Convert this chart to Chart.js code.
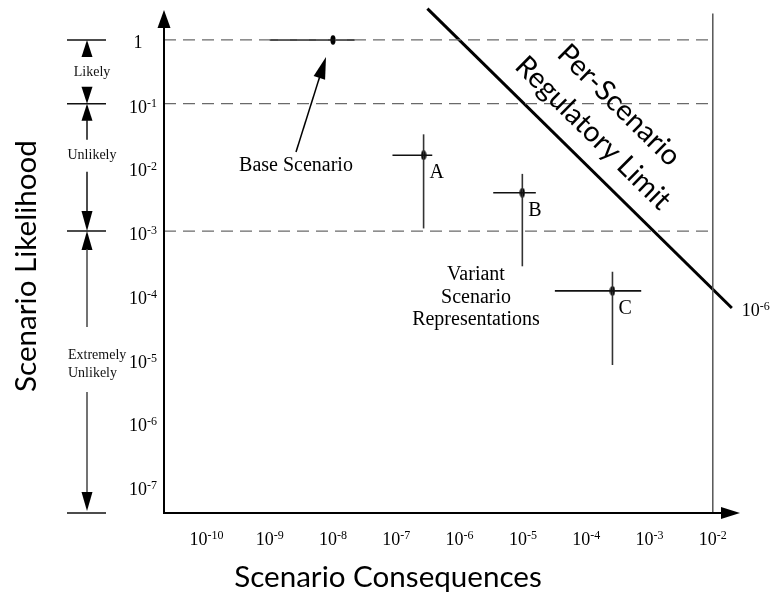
<!DOCTYPE html>
<html><head><meta charset="utf-8">
<script src="https://cdn.jsdelivr.net/npm/chart.js@4.4.1/dist/chart.umd.min.js"></script>
<style>html,body{margin:0;padding:0;background:#fff;}#wrap{width:776px;height:592px;}</style>
</head><body><div id="wrap"><canvas id="c" width="776" height="592"></canvas></div>
<script>
// ---- data ----
const scenarioNames   = ['Base Scenario', 'A', 'B', 'C'];
const consequence     = [1.0e-8, 2.7e-7, 9.8e-6, 2.6e-4];
const consequenceLow  = [1.0e-9, 8.7e-8, 3.4e-6, 3.2e-5];
const consequenceHigh = [2.2e-8, 3.7e-7, 1.6e-5, 7.4e-4];
const likelihood      = [1, 1.55e-2, 4.0e-3, 1.15e-4];
const likelihoodLow   = [null, 1.1e-3, 2.8e-4, 7.9e-6];
const likelihoodHigh  = [null, 3.3e-2, 7.9e-3, 2.3e-4];
const bandLimits      = [1, 1e-1, 1e-3];
const bandNames       = ['Likely', 'Unlikely', 'Extremely Unlikely'];
const limitLabelExp   = -6;
const limitLineX      = [3.1e-7, 2.0e-2];
const limitLineY      = [3.1, 6.2e-5];
const consequenceCap  = 1e-2;
const capTopY         = 2.6;
const xTickExponents  = [-10, -9, -8, -7, -6, -5, -4, -3, -2];
const yTickExponents  = [0, -1, -2, -3, -4, -5, -6, -7];
const xRange          = [2.14e-11, 2.69e-2];
const yRange          = [3.76e-8, 2.95];

const SERIF = '"Liberation Serif", "Times New Roman", serif';
const SANS  = 'Lato, "Open Sans", sans-serif';

// point marker (small vertical ellipse)
const dot = document.createElement('canvas');
dot.width = 6; dot.height = 10;
{ const g = dot.getContext('2d'); g.fillStyle = '#000'; g.beginPath(); g.ellipse(3, 5, 2.6, 4.7, 0, 0, Math.PI * 2); g.fill(); }

const datasets = [];
bandLimits.forEach(b => datasets.push({
  data: [{x: xRange[0], y: b}, {x: consequenceCap, y: b}],
  showLine: true, borderColor: '#6a6a6a', borderWidth: 1.2, borderDash: [12, 7], pointRadius: 0
}));
datasets.push({
  data: [{x: consequenceCap, y: yRange[0]}, {x: consequenceCap, y: capTopY}],
  showLine: true, borderColor: '#555', borderWidth: 1.5, pointRadius: 0
});
datasets.push({
  data: limitLineX.map((x, i) => ({x, y: limitLineY[i]})),
  showLine: true, borderColor: '#000', borderWidth: 3, pointRadius: 0, clip: false
});
scenarioNames.forEach((n, i) => {
  datasets.push({
    data: [{x: consequenceLow[i], y: likelihood[i]}, {x: consequenceHigh[i], y: likelihood[i]}],
    showLine: true, borderColor: '#111', borderWidth: 1.6, pointRadius: 0
  });
  if (likelihoodLow[i] !== null) datasets.push({
    data: [{x: consequence[i], y: likelihoodLow[i]}, {x: consequence[i], y: likelihoodHigh[i]}],
    showLine: true, borderColor: '#333', borderWidth: 1.6, pointRadius: 0
  });
});
datasets.push({
  data: consequence.map((x, i) => ({x, y: likelihood[i]})),
  showLine: false, pointStyle: dot, pointRadius: 5
});

function drawPow(ctx, exp, x, base, align) {
  const main = '10', sup = String(exp).replace('-', '-');
  ctx.font = '18px ' + SERIF; const w1 = ctx.measureText(main).width;
  ctx.font = '12px ' + SERIF; const w2 = ctx.measureText(sup).width;
  const w = w1 + w2;
  let s = align === 'right' ? x - w : align === 'center' ? x - w / 2 : x;
  ctx.textAlign = 'left'; ctx.textBaseline = 'alphabetic';
  ctx.font = '18px ' + SERIF; ctx.fillText(main, s, base);
  ctx.font = '12px ' + SERIF; ctx.fillText(sup, s + w1, base - 6);
}
function fitSize(ctx, text, family, target) {
  ctx.font = '100px ' + family; return 100 * target / ctx.measureText(text).width;
}
function head(ctx, x, tipY, dir, len, hw) { // dir -1 = up, 1 = down
  const b = tipY - dir * len;
  ctx.beginPath(); ctx.moveTo(x, tipY); ctx.lineTo(x - hw, b); ctx.lineTo(x + hw, b); ctx.closePath(); ctx.fill();
}
function seg(ctx, x1, y1, x2, y2) { ctx.beginPath(); ctx.moveTo(x1, y1); ctx.lineTo(x2, y2); ctx.stroke(); }

const decor = {
  id: 'decor',
  afterDraw(chart) {
    const ctx = chart.ctx, xs = chart.scales.x, ys = chart.scales.y, a = chart.chartArea;
    ctx.save();
    ctx.fillStyle = '#000'; ctx.strokeStyle = '#000';
    // axes with arrows
    ctx.lineWidth = 2;
    seg(ctx, a.left, a.bottom, a.left, a.top + 16);
    seg(ctx, a.left - 1, a.bottom, a.right - 16, a.bottom);
    ctx.beginPath(); ctx.moveTo(a.left, a.top); ctx.lineTo(a.left - 6.5, a.top + 18); ctx.lineTo(a.left + 6.5, a.top + 18); ctx.closePath(); ctx.fill();
    ctx.beginPath(); ctx.moveTo(a.right, a.bottom); ctx.lineTo(a.right - 19, a.bottom - 6); ctx.lineTo(a.right - 19, a.bottom + 6); ctx.closePath(); ctx.fill();

    // y tick labels
    yTickExponents.forEach(e => {
      const py = ys.getPixelForValue(Math.pow(10, e));
      if (e === 0) {
        ctx.font = '18px ' + SERIF; ctx.textAlign = 'center'; ctx.textBaseline = 'alphabetic';
        ctx.fillText('1', 138, py + 8);
      } else drawPow(ctx, e, 157, py + 9, 'right');
    });
    // x tick labels
    xTickExponents.forEach(e => {
      const px = xs.getPixelForValue(Math.pow(10, e));
      drawPow(ctx, e, px, 545, 'center');
    });

    // likelihood band annotation on the left
    const yb = bandLimits.map(v => ys.getPixelForValue(v));
    yb.push(a.bottom);
    const ax = 87;
    ctx.lineWidth = 1.5; ctx.strokeStyle = '#111'; ctx.fillStyle = '#000';
    yb.forEach(y => seg(ctx, 67, y, 106, y));
    // Likely
    head(ctx, ax, yb[0], -1, 17, 5.5);
    head(ctx, ax, yb[1], 1, 17, 5.5);
    // Unlikely
    head(ctx, ax, yb[1], -1, 17, 5.5);
    seg(ctx, ax, yb[1] + 16, ax, yb[1] + 36);
    seg(ctx, ax, yb[1] + 68, ax, yb[2] - 18);
    head(ctx, ax, yb[2], 1, 20, 5.5);
    // Extremely unlikely
    head(ctx, ax, yb[2], -1, 19, 5.5);
    ctx.strokeStyle = '#444';
    seg(ctx, ax, yb[2] + 18, ax, yb[2] + 96);
    seg(ctx, ax, yb[2] + 161, ax, yb[3] - 18);
    head(ctx, ax, yb[3] - 2, 1, 19, 5.5);

    ctx.font = '14px ' + SERIF; ctx.textBaseline = 'alphabetic'; ctx.fillStyle = '#111';
    ctx.textAlign = 'center';
    ctx.fillText(bandNames[0], 92, 76);
    ctx.fillText(bandNames[1], 92, 159);
    ctx.textAlign = 'left';
    const ext = bandNames[2].split(' ');
    ctx.fillText(ext[0], 68, 359);
    ctx.fillText(ext[1], 68, 377);

    // scenario annotations
    ctx.fillStyle = '#000'; ctx.strokeStyle = '#000';
    const bx = xs.getPixelForValue(consequence[0]), by = ys.getPixelForValue(likelihood[0]);
    ctx.font = '20px ' + SERIF; ctx.textAlign = 'center'; ctx.textBaseline = 'alphabetic';
    ctx.fillText(scenarioNames[0], 296, 171);
    const tip = {x: bx - 7, y: by + 17}, tail = {x: 296, y: 152};
    const ang = Math.atan2(tip.y - tail.y, tip.x - tail.x);
    ctx.lineWidth = 1.5;
    seg(ctx, tail.x, tail.y, tip.x - 18 * Math.cos(ang), tip.y - 18 * Math.sin(ang));
    ctx.beginPath();
    ctx.moveTo(tip.x, tip.y);
    ctx.lineTo(tip.x - 22 * Math.cos(ang) + 6 * Math.sin(ang), tip.y - 22 * Math.sin(ang) - 6 * Math.cos(ang));
    ctx.lineTo(tip.x - 22 * Math.cos(ang) - 6 * Math.sin(ang), tip.y - 22 * Math.sin(ang) + 6 * Math.cos(ang));
    ctx.closePath(); ctx.fill();

    ctx.textAlign = 'left';
    for (let i = 1; i < scenarioNames.length; i++) {
      const px = xs.getPixelForValue(consequence[i]), py = ys.getPixelForValue(likelihood[i]);
      ctx.fillText(scenarioNames[i], px + 6, py + 23);
    }
    ctx.textAlign = 'center';
    ctx.fillText('Variant', 476, 280);
    ctx.fillText('Scenario', 476, 303);
    ctx.fillText('Representations', 476, 325);

    // limit line label
    const lx = xs.getPixelForValue(limitLineX[1]), ly = ys.getPixelForValue(limitLineY[1]);
    drawPow(ctx, limitLabelExp, lx + 10, ly + 8, 'left');

    // rotated limit text
    const lx0 = xs.getPixelForValue(limitLineX[0]), ly0 = ys.getPixelForValue(limitLineY[0]);
    const th = Math.atan2(ly - ly0, lx - lx0);
    const ds = fitSize(ctx, 'Regulatory Limit', SANS, 205);
    ctx.font = ds.toFixed(1) + 'px ' + SANS; ctx.textAlign = 'center'; ctx.textBaseline = 'middle';
    [['Per-Scenario', 619, 105], ['Regulatory Limit', 593, 133]].forEach(([t, x, y]) => {
      ctx.save(); ctx.translate(x, y); ctx.rotate(th); ctx.fillText(t, 0, 0); ctx.restore();
    });

    // axis titles
    ctx.textBaseline = 'alphabetic';
    const xsz = fitSize(ctx, 'Scenario Consequences', SANS, 308);
    ctx.font = xsz.toFixed(1) + 'px ' + SANS;
    ctx.fillText('Scenario Consequences', 388, 587);
    const ysz = fitSize(ctx, 'Scenario Likelihood', SANS, 252);
    ctx.font = ysz.toFixed(1) + 'px ' + SANS;
    ctx.save(); ctx.translate(35.5, 266); ctx.rotate(-Math.PI / 2); ctx.fillText('Scenario Likelihood', 0, 0); ctx.restore();
    ctx.restore();
  }
};

new Chart(document.getElementById('c'), {
  type: 'scatter',
  data: { datasets },
  options: {
    responsive: false, animation: false, devicePixelRatio: 1,
    layout: { padding: { left: 164, right: 36, top: 10, bottom: 79 } },
    plugins: { legend: { display: false }, tooltip: { enabled: false } },
    scales: {
      x: { type: 'logarithmic', min: xRange[0], max: xRange[1], display: false },
      y: { type: 'logarithmic', min: yRange[0], max: yRange[1], display: false }
    }
  },
  plugins: [decor]
});
</script></body></html>
